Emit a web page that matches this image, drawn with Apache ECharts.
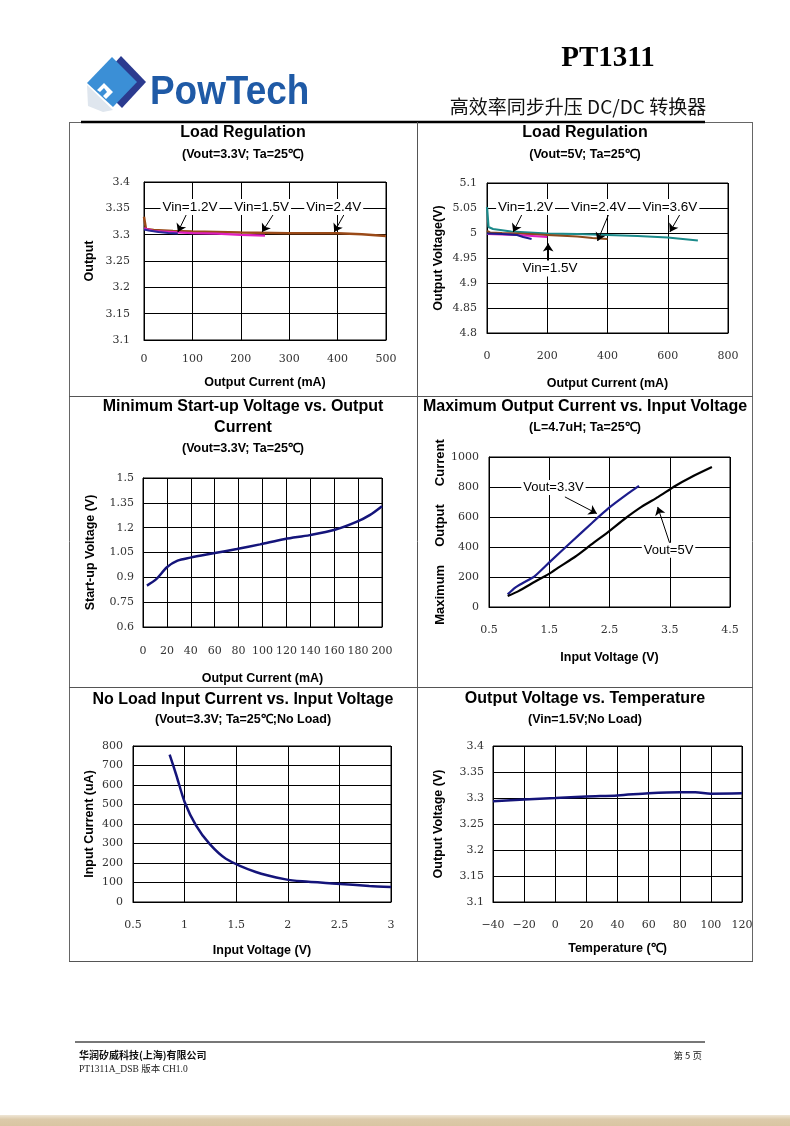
<!DOCTYPE html>
<html>
<head>
<meta charset="utf-8">
<script src="https://cdn.jsdelivr.net/npm/echarts@6/dist/echarts.min.js"></script>
<style>
html,body{margin:0;padding:0;background:#fff;}
#c{width:790px;height:1126px;}
</style>
</head>
<body>
<div id="c"></div>
<script>
// ---------- DATA ----------
// Panel 1: Load Regulation (Vout=3.3V)
const lr33Vin12 = [[0,3.310],[10,3.308],[30,3.305],[50,3.303],[70,3.302]];
const lr33Vin15 = [[0,3.312],[20,3.307],[60,3.305],[100,3.303],[150,3.302],[200,3.2995],[250,3.298]];
const lr33Vin24 = [[0,3.334],[4,3.311],[20,3.309],[60,3.307],[100,3.306],[200,3.304],[300,3.3025],[400,3.3025],[450,3.301],[500,3.2975]];
// Panel 2: Load Regulation (Vout=5V)
const lr5Vin12 = [[0,4.999],[50,4.998],[100,4.996],[120,4.992],[148,4.988]];
const lr5Vin15 = [[0,4.998],[50,4.997],[100,4.996],[150,4.994],[200,4.992]];
const lr5Vin24 = [[0,5.004],[10,5.001],[50,5.000],[100,4.999],[200,4.996],[300,4.993],[350,4.990],[400,4.988]];
const lr5Vin36 = [[0,5.052],[5,5.012],[20,5.008],[80,5.003],[200,4.9987],[300,4.998],[400,4.996],[500,4.994],[600,4.991],[700,4.985]];
// Panel 3: Minimum start-up voltage vs output current
const startupI = [3.3,11.1,20,28.9,39.5,58.9,78.5,97.9,118.8,139.6,160.5,178.6,189.7,200];
const startupV = [0.850,0.889,0.961,1.001,1.019,1.045,1.071,1.099,1.131,1.155,1.187,1.235,1.276,1.330];
// Panel 4: Maximum output current vs input voltage
const maxI33Vin = [0.81,0.93,1.10,1.26,1.51,1.87,2.20,2.48,2.81,2.99];
const maxI33 = [84,128,168,206,301,435,557,657,757,807];
const maxI5Vin = [0.81,0.99,1.26,1.51,1.65,1.93,2.20,2.48,2.76,3.03,3.31,3.59,3.86,4.20];
const maxI5 = [73,106,168,224,262,335,417,501,590,667,734,807,867,933];
// Panel 5: No load input current vs input voltage
const nlVin = [0.855,0.92,1.0,1.11,1.24,1.40,1.69,1.98,2.14,2.47,2.79,3.0];
const nlI = [756,650,513,393,299,222,154,116,106,94,82,77];
// Panel 6: Output voltage vs temperature
const tempC = [-40,-20,0,20,40,60,80,90,100,120];
const tempV = [3.2936,3.297,3.300,3.303,3.305,3.309,3.311,3.311,3.3083,3.309];

// Annotation labels and arrows (data coordinates)
const p1Labels = [['Vin=1.2V',95,3.3525],['Vin=1.5V',243,3.3525],['Vin=2.4V',392,3.3525]];
const p1Arrows = [[89,3.341,70,3.305],[269,3.341,244,3.305],[415,3.341,393,3.305]];
const p2Labels = [['Vin=1.2V',128,5.052],['Vin=2.4V',370,5.052],['Vin=3.6V',607,5.052],['Vin=1.5V',209,4.929]];
const p2Arrows = [[115,5.036,87,5.002],[405,5.039,367,4.984],[646,5.043,607,5.002],[203,4.939,203,4.979]];
const p4Labels = [['Vout=3.3V',1.57,796],['Vout=5V',3.48,379]];
const p4Arrows = [[1.76,734,2.29,623],[3.50,424,3.30,667]];

// ---------- STYLE HELPERS ----------
const SANS = 'Liberation Sans, Arial, Helvetica, sans-serif';
const tickFont = {fontFamily:'DejaVu Serif, serif', fontSize:11, color:'#333'};
function fmt(v){ return String(+v.toFixed(4)).replace('-','\u2212'); }
function nameStyle(sz, bg){
  const s = {fontFamily:SANS, fontWeight:'bold', fontSize:sz||12.5, color:'#000'};
  if(bg){ s.backgroundColor='#fff'; s.padding=[0,1]; }
  return s;
}
function xAx(gi,min,max,interval,name,gap,margin){
  return {type:'value',gridIndex:gi,min:min,max:max,interval:interval,name:name,nameLocation:'middle',nameGap:gap,
    nameTextStyle:nameStyle(12.5),axisLine:{lineStyle:{color:'#000',width:1}},axisTick:{show:false},
    axisLabel:Object.assign({margin:margin,formatter:fmt},tickFont),splitLine:{show:true,lineStyle:{color:'#000',width:1}}};
}
function yAx(gi,min,max,interval,name,gap,margin,nsz,bg){
  return {type:'value',gridIndex:gi,min:min,max:max,interval:interval,name:name,nameLocation:'middle',nameGap:gap,
    nameTextStyle:nameStyle(nsz,bg),axisLine:{lineStyle:{color:'#000',width:1}},axisTick:{show:false},
    axisLabel:Object.assign({margin:margin,formatter:fmt},tickFont),splitLine:{show:true,lineStyle:{color:'#000',width:1}}};
}
function zip(a,b){ return a.map((v,i)=>[v,b[i]]); }
function line(gi,data,color,width,smooth,extra){
  return Object.assign({type:'line',xAxisIndex:gi,yAxisIndex:gi,data:data,showSymbol:false,smooth:smooth||false,
    lineStyle:{color:color,width:width||2.2},itemStyle:{color:color},silent:true,z:3},extra||{});
}
function annot(labels,arrows,fs){
  return {
    markPoint:{symbol:'rect',symbolSize:1,itemStyle:{color:'rgba(0,0,0,0)'},silent:true,
      label:{show:true,position:'inside',formatter:'{b}',fontFamily:SANS,fontSize:fs||13.5,color:'#000',backgroundColor:'#fff',padding:[1,2]},
      data:labels.map(l=>({name:l[0],coord:[l[1],l[2]]}))},
    markLine:{silent:true,symbol:['none','arrow'],symbolSize:8,label:{show:false},
      lineStyle:{color:'#000',width:1,type:'solid'},itemStyle:{color:'#000'},emphasis:{disabled:true},
      data:arrows.map(a=>[{coord:[a[0],a[1]]},{coord:[a[2],a[3]]}])}
  };
}
function txt(x,y,s,font,align,color,sx){
  const o = {type:'text',x:x,y:y,silent:true,style:{text:s,font:font,fill:color||'#000',textAlign:align||'center',textVerticalAlign:'middle'}};
  if(sx){ o.scaleX = sx; }
  return o;
}
function ln(x1,y1,x2,y2,color,w){
  return {type:'line',silent:true,shape:{x1:x1,y1:y1,x2:x2,y2:y2},style:{stroke:color,lineWidth:w}};
}
const TB = 'bold 16px '+SANS, SB = 'bold 12.5px '+SANS;

const graphics = [
  // header logo
  {type:'polygon',silent:true,shape:{points:[[121,56],[146,82],[122,108],[97,83]]},style:{fill:'#2b3a8f'}},
  {type:'polygon',silent:true,shape:{points:[[112,57],[137,82],[113,107],[87,83]]},style:{fill:'#3b8fd6'}},
  {type:'polygon',silent:true,shape:{points:[[97,90],[104,83],[113,92],[106,99],[103,96],[107,92],[104,88],[100,92]]},style:{fill:'#fff'}},
  {type:'polygon',silent:true,shape:{points:[[87,85],[113,110],[103,112],[88,106]]},style:{fill:'#dfe6ee'}},
  txt(150,93,'PowTech','bold 41px Liberation Sans, Arial, sans-serif','left','#1f5aa6',0.9),
  txt(608,59,'PT1311','bold 29px Liberation Serif, Times New Roman, serif','center','#000'),
  txt(578,107,'高效率同步升压 DC/DC 转换器','19px Noto Sans CJK SC, sans-serif','center','#111'),
  // table
  ln(69,122.5,753,122.5,'#666',1),
  ln(81,122,705,122,'#000',2.5),
  ln(69.5,122,69.5,961,'#666',1),
  ln(752.5,122,752.5,961,'#666',1),
  ln(69,961.5,753,961.5,'#555',1.2),
  ln(417.5,122,417.5,961,'#555',1),
  ln(69,396.5,753,396.5,'#555',1),
  ln(69,687.5,753,687.5,'#555',1),
  // panel titles
  txt(243,133,'Load Regulation',TB), txt(243,155,'(Vout=3.3V; Ta=25℃)',SB),
  txt(585,133,'Load Regulation',TB), txt(585,155,'(Vout=5V; Ta=25℃)',SB),
  txt(243,407,'Minimum Start-up Voltage vs. Output',TB), txt(243,428,'Current',TB), txt(243,449,'(Vout=3.3V; Ta=25℃)',SB),
  txt(585,407,'Maximum Output Current vs. Input Voltage',TB), txt(585,428,'(L=4.7uH; Ta=25℃)',SB),
  txt(243,700,'No Load Input Current vs. Input Voltage',TB), txt(243,720,'(Vout=3.3V; Ta=25℃;No Load)',SB),
  txt(585,699,'Output Voltage vs. Temperature',TB), txt(585,720,'(Vin=1.5V;No Load)',SB),
  // footer
  ln(75,1042,705,1042,'#777',2),
  txt(79,1055,'华润矽威科技(上海)有限公司','bold 10px Noto Sans CJK SC, sans-serif','left','#111'),
  txt(79,1069,'PT1311A_DSB 版本 CH1.0','9.5px Liberation Serif, Noto Sans CJK SC, serif','left','#222'),
  txt(702,1055,'第 5 页','9.5px Noto Sans CJK SC, serif','right','#222'),
  {type:'rect',silent:true,shape:{x:0,y:1115,width:790,height:11},
    style:{fill:new echarts.graphic.LinearGradient(0,0,0,1,[{offset:0,color:'#efe6d6'},{offset:0.4,color:'#dccaaa'},{offset:1,color:'#d9c5a2'}])}}
];

const chart = echarts.init(document.getElementById('c'),null,{renderer:'canvas',width:790,height:1126});
chart.setOption({
  animation:false,
  backgroundColor:'#fff',
  grid:[
    {left:144,top:182,width:242,height:158,show:true,borderColor:'#000',borderWidth:1},
    {left:487,top:183,width:241,height:150,show:true,borderColor:'#000',borderWidth:1},
    {left:143,top:478,width:239,height:149,show:true,borderColor:'#000',borderWidth:1},
    {left:489,top:457,width:241,height:150,show:true,borderColor:'#000',borderWidth:1},
    {left:133,top:746,width:258,height:156,show:true,borderColor:'#000',borderWidth:1},
    {left:493,top:746,width:249,height:156,show:true,borderColor:'#000',borderWidth:1}
  ],
  xAxis:[
    xAx(0,0,500,100,'Output Current (mA)',36,14),
    xAx(1,0,800,200,'Output Current (mA)',44,18),
    xAx(2,0,200,20,'Output Current (mA)',45,19),
    xAx(3,0.5,4.5,1,'Input Voltage (V)',44,18),
    xAx(4,0.5,3,0.5,'Input Voltage (V)',42,18),
    xAx(5,-40,120,20,'Temperature (℃)',40,18)
  ],
  yAxis:[
    yAx(0,3.1,3.4,0.05,'Output',48,14,12.5),
    yAx(1,4.8,5.1,0.05,'Output Voltage(V)',42,10,12.5,true),
    yAx(2,0.6,1.5,0.15,'Start-up Voltage (V)',46,9,12.5),
    yAx(3,0,1000,200,'Maximum     Output     Current',42,10,13),
    yAx(4,0,800,100,'Input Current (uA)',37,10,12.5),
    yAx(5,3.1,3.4,0.05,'Output Voltage (V)',48,9,12.5)
  ],
  graphic:graphics,
  series:[
    line(0,lr33Vin24,'#9a4a18',2.5,false,annot(p1Labels,p1Arrows,13.5)),
    line(0,lr33Vin15,'#e020c0',2.2),
    line(0,lr33Vin12,'#2a2a9a',2),
    line(1,lr5Vin36,'#1b8a8a',2.2,false,annot(p2Labels,p2Arrows,13.5)),
    line(1,lr5Vin24,'#8b4a1c',2.2),
    line(1,lr5Vin15,'#e020c0',2.2),
    line(1,lr5Vin12,'#1c1c8c',2),
    line(2,zip(startupI,startupV),'#14147a',2.5,0.3),
    line(3,zip(maxI33Vin,maxI33),'#1c1c8c',2.2,0.2,annot(p4Labels,p4Arrows,13)),
    line(3,zip(maxI5Vin,maxI5),'#000',2.2,0.2),
    line(4,zip(nlVin,nlI),'#14147a',2.5,0.25),
    line(5,zip(tempC,tempV),'#14147a',2.5,0.3)
  ]
});
</script>
</body>
</html>
